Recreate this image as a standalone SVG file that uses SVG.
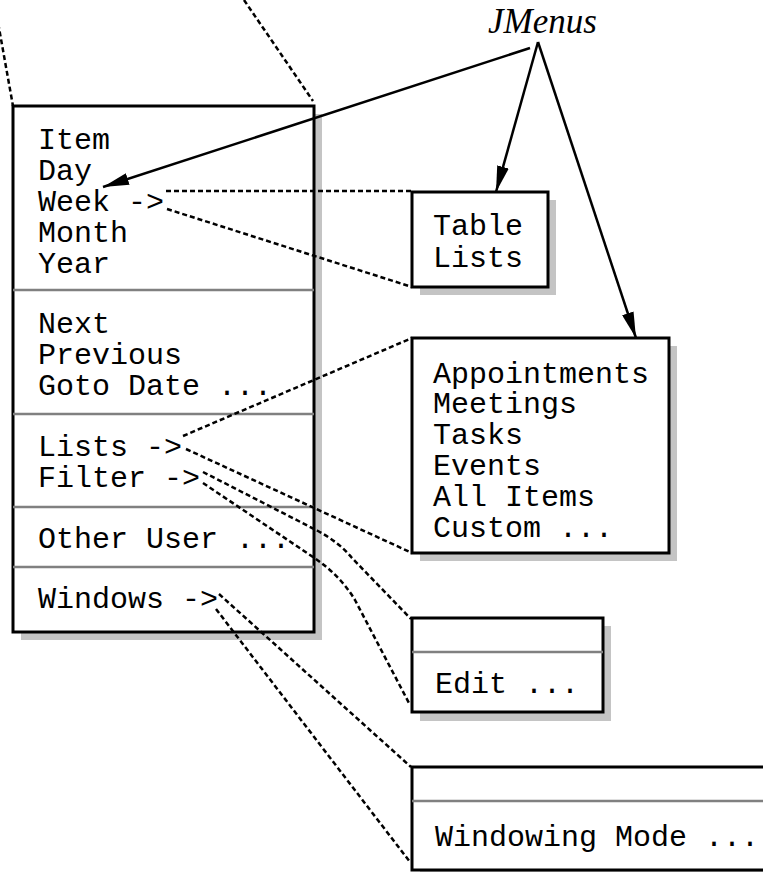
<svg xmlns="http://www.w3.org/2000/svg" width="763" height="872" viewBox="0 0 763 872">
  <style>
    .shadow { fill: #c4c4c4; stroke: none; }
    .box { fill: #ffffff; stroke: #000000; stroke-width: 3; }
    .sep { stroke: #808080; stroke-width: 2.5; }
    .item { font-family: "Liberation Mono", "Courier New", monospace; font-size: 30px; fill: #000000; }
    .title { font-family: "Liberation Serif", "Times New Roman", serif; font-style: italic; font-size: 35px; fill: #000000; }
    .dash { fill: none; stroke: #000000; stroke-width: 2.5; stroke-dasharray: 5 3; }
    .arrow { fill: none; stroke: #000000; stroke-width: 2.5; marker-end: url(#head); }
  </style>
  <defs>
    <marker id="head" viewBox="0 0 26 12" refX="26" refY="6" markerWidth="26" markerHeight="12" markerUnits="userSpaceOnUse" orient="auto">
      <path d="M0,0 L26,6 L0,12 z" fill="#000000"/>
    </marker>
  </defs>

  <rect width="763" height="872" fill="#ffffff"/>

  <!-- main calendar menu -->
  <g id="main-menu">
    <rect class="shadow" x="21" y="114" width="301" height="526"/>
    <rect class="box" x="13" y="106" width="301" height="526"/>
    <line class="sep" x1="13" y1="290" x2="314" y2="290"/>
    <line class="sep" x1="13" y1="414" x2="314" y2="414"/>
    <line class="sep" x1="13" y1="507" x2="314" y2="507"/>
    <line class="sep" x1="13" y1="567" x2="314" y2="567"/>
    <text class="item" x="38" y="149">Item</text>
    <text class="item" x="38" y="180">Day</text>
    <text class="item" x="38" y="211">Week -&gt;</text>
    <text class="item" x="38" y="242">Month</text>
    <text class="item" x="38" y="273">Year</text>
    <text class="item" x="38" y="333">Next</text>
    <text class="item" x="38" y="364">Previous</text>
    <text class="item" x="38" y="395">Goto Date ...</text>
    <text class="item" x="38" y="456">Lists -&gt;</text>
    <text class="item" x="38" y="487">Filter -&gt;</text>
    <text class="item" x="38" y="548">Other User ...</text>
    <text class="item" x="38" y="608">Windows -&gt;</text>
  </g>

  <!-- week submenu -->
  <g id="week-menu">
    <rect class="shadow" x="420" y="200" width="136" height="95"/>
    <rect class="box" x="412" y="192" width="136" height="95"/>
    <text class="item" x="433" y="235">Table</text>
    <text class="item" x="433" y="267">Lists</text>
  </g>

  <!-- lists submenu -->
  <g id="lists-menu">
    <rect class="shadow" x="420" y="346" width="257" height="215"/>
    <rect class="box" x="412" y="338" width="257" height="215"/>
    <text class="item" x="433" y="383">Appointments</text>
    <text class="item" x="433" y="413">Meetings</text>
    <text class="item" x="433" y="444">Tasks</text>
    <text class="item" x="433" y="475">Events</text>
    <text class="item" x="433" y="506">All Items</text>
    <text class="item" x="433" y="537">Custom ...</text>
  </g>

  <!-- filter submenu -->
  <g id="filter-menu">
    <rect class="shadow" x="420" y="626" width="191" height="95"/>
    <rect class="box" x="412" y="618" width="191" height="94"/>
    <line class="sep" x1="412" y1="652" x2="603" y2="652"/>
    <text class="item" x="435" y="693">Edit ...</text>
  </g>

  <!-- windows submenu -->
  <g id="windows-menu">
    <rect class="shadow" x="420" y="775" width="400" height="103"/>
    <rect class="box" x="412" y="767" width="400" height="103"/>
    <line class="sep" x1="412" y1="801" x2="812" y2="801"/>
    <text class="item" x="435" y="846">Windowing Mode ...</text>
  </g>

  <!-- label -->
  <g id="jmenus-label">
    <text class="title" x="488" y="33">JMenus</text>
  </g>

  <!-- connectors -->
  <g id="connectors">
    <line class="dash" x1="-6" y1="0" x2="13" y2="106"/>
    <line class="dash" x1="244" y1="0" x2="313" y2="101"/>
    <line class="dash" x1="166" y1="191" x2="412" y2="191"/>
    <line class="dash" x1="167" y1="209" x2="412" y2="287"/>
    <line class="dash" x1="183" y1="436" x2="412" y2="338"/>
    <line class="dash" x1="186" y1="449" x2="412" y2="553"/>
    <path class="dash" d="M203,472 L318,531 Q340,543 352,558 L411,619"/>
    <path class="dash" d="M203,483 L313,557 Q340,575 355,600 L410,705"/>
    <line class="dash" x1="219" y1="594" x2="411" y2="767"/>
    <line class="dash" x1="216" y1="609" x2="410" y2="862"/>
    <line class="arrow" x1="530" y1="48" x2="103" y2="187"/>
    <line class="arrow" x1="538" y1="42" x2="496" y2="192"/>
    <line class="arrow" x1="538" y1="42" x2="636" y2="338"/>
  </g>
</svg>
